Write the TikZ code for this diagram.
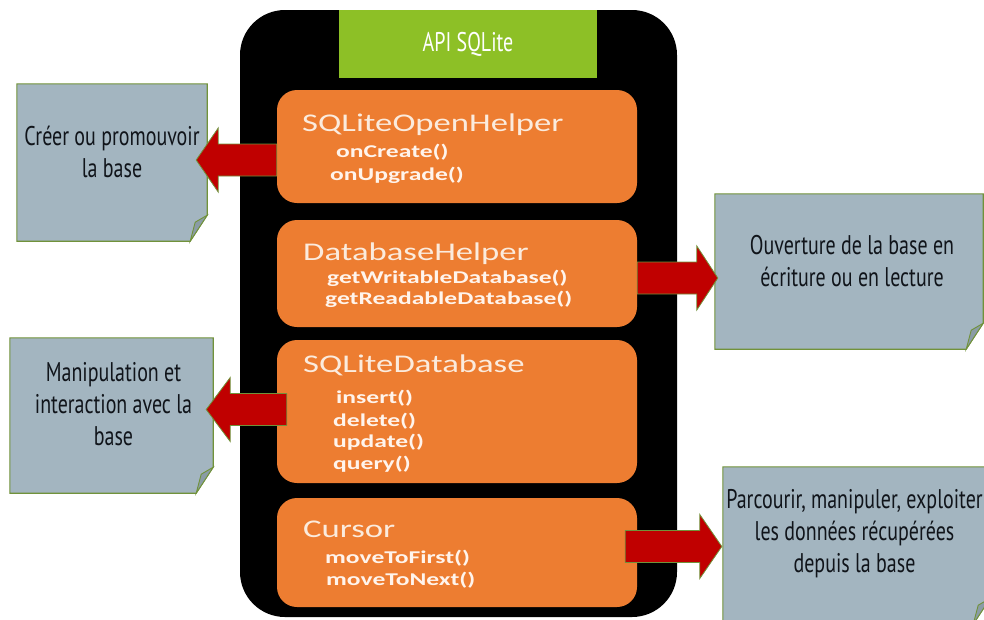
\documentclass[tikz,border=0pt]{standalone}
\usepackage{fontspec}
\usetikzlibrary{calc}
\newfontfamily\notefont[FakeStretch=0.74]{PT Sans}
\newfontfamily\headfont[FakeStretch=1.36]{Carlito}
\newfontfamily\methodfont[FakeStretch=1.42]{Carlito}

\definecolor{boxorange}{HTML}{ED7D31}
\definecolor{headgreen}{HTML}{8DC026}
\definecolor{notepaperfill}{HTML}{A3B5C0}
\definecolor{noteedge}{HTML}{71923A}
\definecolor{foldfill}{HTML}{8A9CA6}
\definecolor{arrowred}{HTML}{C00000}
\definecolor{headtext}{HTML}{FBEBDD}
\definecolor{methodtext}{HTML}{FFF4EC}
\definecolor{notetext}{HTML}{10141A}

\pgfdeclarelayer{bg}
\pgfsetlayers{bg,main}

\tikzset{
  header/.style={fill=headgreen, minimum width=258pt, minimum height=68pt,
    inner sep=0pt, text=white, font=\notefont\fontsize{27}{30}\selectfont},
  obox/.style={fill=boxorange, rounded corners=20pt, minimum width=360pt, inner sep=0pt},
  frame/.style={fill=black, rounded corners=45pt, minimum width=437pt,
    minimum height=607pt, inner sep=0pt},
  notearea/.style={minimum width=#1, inner sep=0pt},
  notepaper/.style={fill=notepaperfill, draw=noteedge, line width=1.1pt},
  notefold/.style={fill=foldfill, draw=noteedge, line width=0.9pt},
  notelabel/.style={font=\notefont\fontsize{27}{32}\selectfont, text=notetext,
    align=center, inner sep=0pt},
  headlabel/.style={font=\headfont\fontsize{25.5}{28}\selectfont, text=headtext,
    anchor=base west, inner sep=0pt},
  methlabel/.style={font=\methodfont\bfseries\fontsize{18}{20}\selectfont, text=methodtext,
    anchor=base west, inner sep=0pt},
  redarrow/.style={fill=arrowred, draw=noteedge, line width=0.8pt, line join=miter}
}

% sticky note with a curled lower right corner, drawn round a named node
\newcommand\notebody[1]{%
  \filldraw[notepaper] (#1.north west) -- (#1.north east)
    -- ($(#1.south east)+(0,-26)$) -- ($(#1.south east)+(-17,0)$)
    -- (#1.south west) -- cycle;
  \filldraw[notefold] ($(#1.south east)+(0,-26)$) -- ($(#1.south east)+(-17,0)$)
    -- ($(#1.south east)+(-12,-19)$) -- cycle;}

% horizontal block arrow: tail x from #1, tip at #2, signed head length #3
\newcommand\blockarrow[3]{%
  \filldraw[redarrow] let \p1=(#1), \p2=(#2) in
    (\x1,{\y2+16pt}) -- ({\x2+#3},{\y2+16pt}) -- ({\x2+#3},{\y2+32pt})
    -- (\x2,\y2) -- ({\x2+#3},{\y2-32pt}) -- ({\x2+#3},{\y2-16pt})
    -- (\x1,{\y2-16pt}) -- cycle;}

\begin{document}
\begin{tikzpicture}[x=1pt,y=-1pt]
\useasboundingbox (0,0) rectangle (984,619);
\clip (0,0) rectangle (984,619);

% API block
\node[header] (api) at (468,44) {API SQLite};
\node[obox, minimum height=113pt] (openhelper) at (457,146.5) {};
\node[obox, minimum height=107pt] (dbhelper) at (457,273.5) {};
\node[obox, minimum height=143pt] (database) at (457,411.5) {};
\node[obox, minimum height=109pt] (cursor) at (457,552.5) {};

% class names and their methods
\node[headlabel] (h1) at (302,131) {SQLiteOpenHelper};
\node[methlabel] (m11) at (336,157) {onCreate()};
\node[methlabel] (m12) at (330,180) {onUpgrade()};

\node[headlabel] (h2) at (303,260) {DatabaseHelper};
\node[methlabel] (m21) at (327,283) {getWritableDatabase()};
\node[methlabel] (m22) at (325,304) {getReadableDatabase()};

\node[headlabel] (h3) at (303,372) {SQLiteDatabase};
\node[methlabel] (m31) at (336,403) {insert()};
\node[methlabel] (m32) at (333,426) {delete()};
\node[methlabel] (m33) at (333,447) {update()};
\node[methlabel] (m34) at (333,469) {query()};

\node[headlabel] (h4) at (303,537) {Cursor};
\node[methlabel] (m41) at (325,563) {moveToFirst()};
\node[methlabel] (m42) at (326,585) {moveToNext()};

% sticky notes
\node[notearea=190pt, minimum height=157pt] (create) at (112,162.5) {};
\node[notearea=268pt, minimum height=155pt] (open) at (849,271.5) {};
\node[notearea=203pt, minimum height=155pt] (manip) at (111.5,415.5) {};
\node[notearea=267pt, minimum height=157pt] (browse) at (856.5,545.5) {};

\node[notelabel] (createtxt) at ($(create.center)+(0,-11)$) {Créer ou promouvoir\\la base};
\node[notelabel] (opentxt) at ($(open.center)+(3,-10)$) {Ouverture de la base en\\écriture ou en lecture};
\node[notelabel] (maniptxt) at ($(manip.center)+(2,-11)$) {Manipulation et\\interaction avec la\\base};
\node[notelabel] (browsetxt) at ($(browse.center)+(-2,-12)$) {Parcourir, manipuler, exploiter\\les données récupérées\\depuis la base};

\begin{pgfonlayer}{bg}
  \node[frame] (api-frame) at (458.5,313.5) {};
  \notebody{create}
  \notebody{open}
  \notebody{manip}
  \notebody{browse}
\end{pgfonlayer}

% arrows from each class to its role
\coordinate (tip1) at ($(create.east)+(-11,-2.5)$);
\coordinate (tip2) at ($(open.west)+(3,6.5)$);
\coordinate (tip3) at ($(manip.east)+(-7,-6)$);
\coordinate (tip4) at ($(browse.west)+(-1,1)$);
\coordinate (tail3) at ($(database.west)+(10,0)$);
\coordinate (tail4) at ($(cursor.east)+(-12,0)$);

\blockarrow{openhelper.west}{tip1}{22pt}
\blockarrow{dbhelper.east}{tip2}{-21pt}
\blockarrow{tail3}{tip3}{24pt}
\blockarrow{tail4}{tip4}{-22pt}
\end{tikzpicture}
\end{document}
